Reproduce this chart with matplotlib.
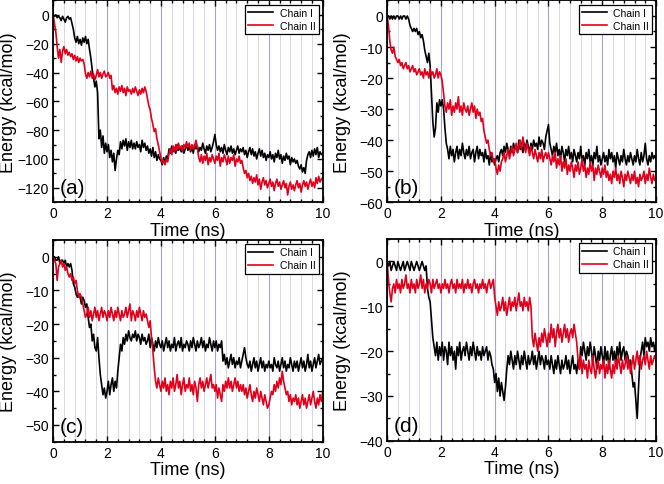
import numpy as np
import matplotlib
matplotlib.use('Agg')
import matplotlib.pyplot as plt
from matplotlib.ticker import MultipleLocator

plt.rcParams['font.family'] = ['Liberation Sans', 'DejaVu Sans']

# time axis: 0 to 10 ns every 0.05 ns
time_ns = np.round(np.arange(0, 201) * 0.05, 2)

# panel (a)
a_chain1 = [0, -1, 0, -2, -1, -2, -4, -1, -3, -5, -2, -1, -3, -2, -6, -10, -16, -19, -15, -20,
            -17, -21, -16, -19, -15, -20, -17, -24, -30, -38, -44, -50, -46, -54, -86, -80, -92, -84, -96, -89,
            -95, -90, -99, -94, -102, -96, -108, -100, -94, -97, -88, -93, -87, -91, -86, -94, -88, -92, -87, -93,
            -89, -93, -88, -92, -90, -95, -87, -92, -89, -94, -91, -96, -93, -98, -92, -99, -95, -101, -97, -100,
            -101, -104, -99, -103, -98, -100, -93, -96, -91, -95, -92, -96, -90, -94, -92, -95, -91, -96, -93, -90,
            -94, -91, -95, -92, -96, -90, -93, -91, -95, -92, -94, -89, -93, -96, -91, -94, -90, -95, -92, -88,
            -83, -90, -94, -91, -95, -92, -96, -90, -94, -97, -92, -95, -91, -96, -93, -97, -94, -91, -96, -93,
            -95, -92, -97, -94, -99, -95, -92, -97, -93, -98, -95, -100, -96, -93, -98, -94, -99, -96, -101, -97,
            -99, -95, -100, -97, -102, -96, -99, -94, -100, -97, -103, -98, -101, -96, -100, -98, -104, -99, -102, -100,
            -103, -101, -105, -107, -104, -109, -106, -110, -101, -97, -95, -99, -94, -98, -93, -97, -92, -99, -95, -97,
            -96]
a_chain2 = [0, -6, -12, -22, -30, -24, -33, -25, -22, -27, -24, -28, -26, -29, -27, -31, -28, -32, -29, -33,
            -30, -32, -31, -34, -41, -44, -40, -43, -39, -44, -41, -45, -42, -38, -43, -40, -44, -41, -39, -43,
            -42, -40, -44, -42, -52, -49, -54, -51, -55, -50, -53, -49, -54, -51, -56, -50, -53, -52, -55, -51,
            -54, -50, -53, -56, -52, -55, -51, -54, -50, -53, -58, -63, -66, -72, -76, -81, -79, -86, -90, -95,
            -99, -103, -101, -104, -100, -102, -96, -93, -97, -91, -95, -90, -94, -89, -93, -91, -95, -90, -92, -88,
            -92, -89, -94, -90, -93, -91, -87, -92, -99, -102, -97, -103, -98, -101, -96, -104, -99, -102, -97, -100,
            -103, -98, -101, -96, -105, -99, -102, -97, -100, -104, -98, -103, -99, -101, -97, -105, -100, -102, -98, -103,
            -101, -106, -110, -108, -113, -110, -115, -112, -117, -113, -116, -111, -118, -114, -121, -116, -113, -118, -115, -120,
            -117, -114, -119, -116, -122, -117, -114, -119, -116, -121, -118, -115, -120, -117, -125, -119, -116, -121, -118, -122,
            -118, -115, -120, -117, -123, -118, -115, -119, -116, -121, -117, -114, -119, -116, -120, -113, -117, -112, -116, -114,
            -113]

# panel (b)
b_chain1 = [0, 0, -1, 0, -1, 0, -1, 0, 0, -1, 0, -1, 0, 0, -1, 0, -1, -3, -4, -5,
            -4, -5, -4, -6, -5, -7, -6, -8, -11, -13, -15, -12, -16, -25, -34, -39, -36, -28, -31, -27,
            -29, -27, -30, -36, -41, -43, -46, -42, -45, -43, -47, -44, -42, -46, -43, -45, -41, -44, -46, -43,
            -45, -42, -46, -44, -43, -47, -44, -42, -46, -43, -45, -44, -47, -43, -46, -45, -48, -44, -47, -46,
            -48, -46, -45, -47, -44, -43, -45, -42, -44, -41, -43, -45, -42, -44, -41, -43, -42, -44, -40, -43,
            -42, -44, -41, -43, -40, -42, -44, -41, -43, -40, -42, -41, -43, -39, -42, -40, -41, -43, -39, -37,
            -35, -41, -43, -45, -42, -44, -41, -45, -43, -46, -42, -44, -47, -43, -45, -42, -46, -44, -47, -43,
            -45, -47, -44, -46, -42, -47, -45, -48, -44, -46, -43, -47, -45, -48, -44, -46, -42, -47, -45, -48,
            -46, -44, -47, -45, -48, -43, -46, -44, -47, -45, -49, -44, -46, -48, -45, -47, -43, -46, -48, -45,
            -47, -44, -46, -48, -45, -47, -43, -46, -48, -44, -47, -45, -41, -46, -48, -45, -47, -44, -46, -45,
            -46]
b_chain2 = [0, -3, -8, -11, -12, -10, -13, -14, -15, -14, -16, -15, -17, -16, -15, -17, -16, -18, -17, -16,
            -18, -17, -19, -18, -17, -19, -18, -20, -17, -19, -18, -20, -17, -19, -18, -20, -19, -17, -20, -18,
            -19, -21, -25, -29, -31, -28, -30, -27, -32, -29, -31, -28, -30, -26, -31, -29, -32, -28, -30, -31,
            -29, -32, -30, -28, -31, -29, -33, -30, -32, -31, -34, -33, -37, -39, -41, -40, -43, -45, -44, -47,
            -46, -49, -51, -48, -50, -47, -46, -44, -47, -45, -43, -46, -44, -42, -45, -43, -41, -44, -42, -40,
            -43, -39, -42, -44, -41, -43, -45, -42, -44, -46, -43, -45, -47, -44, -46, -43, -47, -45, -44, -46,
            -44, -46, -48, -45, -47, -44, -49, -46, -48, -45, -50, -47, -49, -46, -51, -48, -50, -47, -49, -52,
            -48, -50, -47, -51, -49, -46, -50, -48, -52, -49, -51, -47, -50, -48, -53, -49, -51, -48, -50, -52,
            -49, -51, -48, -52, -50, -53, -51, -54, -50, -52, -49, -53, -51, -54, -50, -52, -55, -51, -53, -50,
            -52, -54, -51, -53, -50, -54, -52, -55, -51, -53, -52, -50, -54, -51, -53, -49, -52, -54, -51, -53,
            -52]

# panel (c)
c_chain1 = [0, 0, -1, -1, 0, -2, -1, -1, -2, -1, -3, -2, -3, -2, -4, -8, -9, -11, -12, -11,
            -12, -14, -12, -13, -15, -14, -18, -21, -20, -25, -23, -27, -28, -24, -30, -35, -38, -41, -39, -42,
            -40, -37, -41, -38, -36, -40, -37, -39, -34, -30, -26, -28, -24, -26, -23, -25, -22, -24, -25, -23,
            -24, -22, -25, -23, -24, -26, -23, -25, -24, -26, -25, -23, -27, -24, -26, -28, -25, -27, -24, -26,
            -27, -25, -28, -26, -24, -27, -25, -28, -26, -27, -24, -28, -26, -25, -27, -24, -28, -26, -27, -25,
            -26, -28, -25, -27, -24, -26, -28, -25, -27, -26, -24, -27, -25, -28, -26, -27, -24, -26, -28, -25,
            -27, -25, -28, -26, -27, -25, -31, -29, -32, -30, -33, -31, -29, -32, -30, -33, -31, -32, -30, -33,
            -31, -29, -27, -30, -32, -33, -31, -34, -32, -30, -33, -31, -34, -32, -30, -33, -31, -34, -32, -33,
            -31, -33, -32, -34, -30, -32, -33, -31, -34, -32, -30, -33, -31, -34, -32, -33, -30, -32, -34, -31,
            -33, -31, -34, -32, -30, -33, -31, -34, -32, -29, -33, -31, -34, -32, -30, -33, -31, -29, -32, -31,
            -30]
c_chain2 = [0, -1, -2, -7, -3, -2, -1, -3, -2, -4, -3, -5, -6, -5, -7, -6, -8, -7, -10, -12,
            -11, -12, -14, -16, -18, -17, -15, -18, -16, -19, -17, -15, -18, -16, -19, -17, -15, -18, -16, -17,
            -19, -16, -18, -15, -17, -19, -16, -18, -15, -17, -19, -16, -18, -17, -15, -18, -16, -14, -19, -16,
            -17, -19, -16, -18, -15, -17, -19, -16, -18, -17, -19, -21, -19, -24, -28, -33, -37, -39, -36, -38,
            -40, -37, -39, -36, -40, -38, -41, -37, -39, -36, -40, -38, -35, -39, -37, -41, -38, -36, -40, -38,
            -39, -36, -40, -38, -41, -37, -39, -43, -38, -36, -39, -37, -40, -38, -36, -39, -37, -35, -39, -38,
            -40, -38, -42, -39, -41, -43, -38, -40, -37, -39, -36, -39, -37, -40, -38, -36, -39, -37, -40, -38,
            -40, -38, -41, -39, -42, -40, -38, -41, -43, -40, -42, -39, -41, -43, -40, -42, -44, -41, -43, -45,
            -44, -42, -40, -41, -38, -40, -37, -39, -36, -38, -34, -37, -39, -41, -40, -43, -41, -44, -42, -43,
            -41, -44, -42, -45, -43, -41, -44, -42, -45, -43, -41, -44, -42, -40, -43, -45, -42, -44, -41, -43,
            -40]

# panel (d)
d_chain1 = [0, -1, 0, -2, -1, 0, -1, -2, 0, -1, -2, -1, 0, -2, -1, 0, -1, -2, 0, -1,
            -2, -1, 0, -1, -2, -1, 0, -1, -2, -1, -6, -8, -9, -13, -17, -19, -21, -18, -22, -19,
            -21, -18, -22, -19, -20, -23, -18, -21, -19, -22, -20, -24, -19, -21, -18, -22, -20, -19, -21, -18,
            -20, -22, -19, -21, -18, -20, -22, -19, -21, -20, -22, -19, -21, -20, -19, -22, -20, -21, -23, -24,
            -27, -25, -29, -26, -30, -27, -29, -31, -28, -24, -21, -23, -20, -22, -24, -21, -23, -20, -22, -24,
            -21, -23, -20, -22, -24, -21, -23, -22, -20, -23, -21, -24, -22, -20, -23, -21, -22, -24, -21, -23,
            -22, -24, -21, -23, -25, -22, -24, -21, -23, -25, -22, -24, -23, -21, -24, -22, -25, -23, -21, -24,
            -23, -25, -22, -24, -19, -21, -18, -20, -22, -19, -21, -18, -20, -23, -19, -21, -24, -20, -22, -19,
            -21, -23, -19, -22, -20, -24, -21, -19, -22, -20, -23, -19, -21, -18, -22, -20, -19, -22, -20, -21,
            -23, -22, -25, -28, -27, -31, -35, -28, -22, -20, -18, -21, -17, -19, -18, -20, -17, -19, -18, -20,
            -18]
d_chain2 = [0, -4, -7, -9, -6, -5, -7, -4, -6, -5, -7, -4, -6, -5, -3, -6, -5, -7, -4, -6,
            -5, -7, -4, -6, -5, -3, -6, -4, -7, -5, -6, -4, -5, -7, -4, -6, -5, -4, -6, -5,
            -7, -5, -6, -4, -6, -5, -7, -5, -4, -6, -5, -7, -4, -6, -5, -6, -4, -7, -5, -6,
            -4, -6, -5, -7, -5, -4, -6, -5, -7, -5, -6, -4, -6, -5, -7, -5, -4, -6, -5, -4,
            -8, -10, -12, -9, -11, -10, -8, -11, -9, -12, -10, -8, -11, -9, -10, -8, -11, -9, -7, -10,
            -9, -11, -8, -10, -9, -11, -8, -10, -17, -19, -16, -18, -20, -17, -19, -16, -18, -15, -17, -19,
            -16, -18, -14, -17, -15, -19, -16, -14, -17, -15, -18, -16, -14, -17, -15, -18, -16, -15, -17, -14,
            -16, -18, -22, -24, -21, -25, -22, -24, -23, -26, -22, -24, -25, -21, -24, -26, -23, -22, -25, -23,
            -24, -22, -26, -23, -25, -22, -24, -26, -23, -25, -22, -24, -21, -23, -25, -22, -24, -23, -21, -24,
            -22, -25, -23, -21, -24, -22, -20, -23, -21, -24, -22, -21, -23, -20, -22, -24, -21, -23, -22, -21,
            -22]

panels = [
    ('(a)', a_chain1, a_chain2, (-130, 10), 20, 10),
    ('(b)', b_chain1, b_chain2, (-60, 5), 10, 5),
    ('(c)', c_chain1, c_chain2, (-55, 5), 10, 5),
    ('(d)', d_chain1, d_chain2, (-40, 5), 10, 5),
]

# axes rectangles in figure fractions (left, bottom, width, height)
rects = [(0.080, 0.581, 0.406, 0.416),
         (0.583, 0.581, 0.405, 0.416),
         (0.080, 0.087, 0.406, 0.416),
         (0.583, 0.089, 0.405, 0.416)]

fig = plt.figure(figsize=(6.64, 4.85), dpi=100)

for (letter, ch1, ch2, ylim, ymaj, ymin), rect in zip(panels, rects):
    ax = fig.add_axes(rect)
    ax.plot(time_ns, ch1, color='black', lw=1.2, label='Chain I')
    ax.plot(time_ns, ch2, color='#e0001b', lw=1.2, label='Chain II')
    ax.set_xlim(0, 10)
    ax.set_ylim(*ylim)
    ax.xaxis.set_major_locator(MultipleLocator(2))
    ax.xaxis.set_minor_locator(MultipleLocator(0.4))
    ax.yaxis.set_major_locator(MultipleLocator(ymaj))
    ax.yaxis.set_minor_locator(MultipleLocator(ymin))
    ax.grid(axis='x', which='major', color='#a79fcc', lw=0.8)
    ax.grid(axis='x', which='minor', color='#d9d5e3', lw=0.7)
    ax.tick_params(which='both', direction='in', top=True, right=True, labelsize=10, width=1, pad=3)
    ax.tick_params(which='major', length=4)
    ax.tick_params(which='minor', length=2.5)
    for s in ax.spines.values():
        s.set_linewidth(1.3)
    ax.set_xlabel('Time (ns)', fontsize=13, labelpad=1)
    ax.set_ylabel('Energy (kcal/mol)', fontsize=13)
    ax.yaxis.set_label_coords(-0.135, 0.5)
    ax.text(0.025, 0.075, letter, transform=ax.transAxes, fontsize=15, va='center', ha='left')
    leg = ax.legend(loc='upper right', fontsize=7.5, frameon=True, fancybox=False,
                    edgecolor='black', framealpha=1, handlelength=2.4, borderaxespad=0.4,
                    borderpad=0.3, labelspacing=0.3, handletextpad=0.6)
    leg.get_frame().set_linewidth(0.9)

fig.savefig('out.png', dpi=100)
